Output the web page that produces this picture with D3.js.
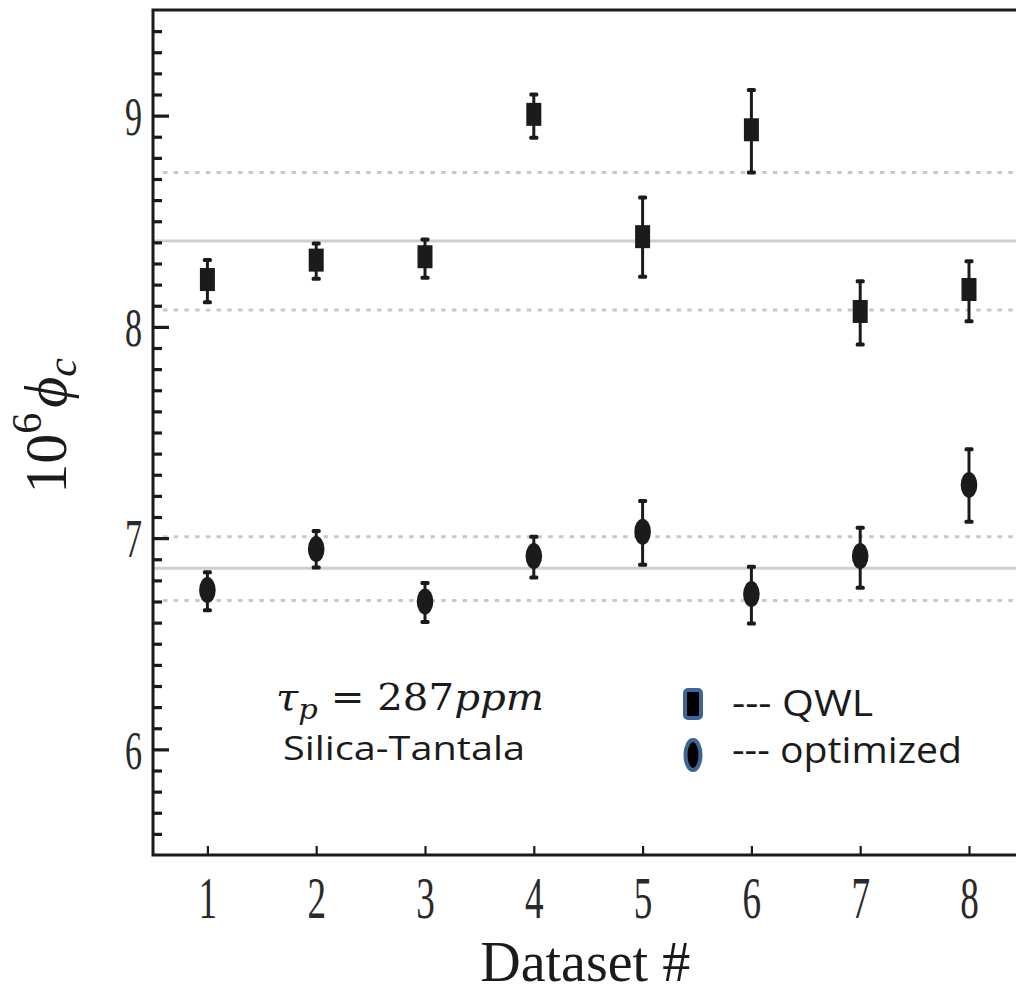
<!DOCTYPE html>
<html>
<head>
<meta charset="utf-8">
<script src="https://cdn.jsdelivr.net/npm/d3@7"></script>
<style>
  html, body { margin: 0; padding: 0; background: #fff; }
  svg { display: block; }
</style>
</head>
<body>
<svg id="chart" width="1016" height="994"></svg>
<script>
// ---- data ----
const datasets = [1, 2, 3, 4, 5, 6, 7, 8];
const qwlValues = [8.224, 8.316, 8.332, 9.006, 8.427, 8.933, 8.073, 8.177];
const qwlLow    = [8.117, 8.228, 8.232, 8.895, 8.237, 8.731, 7.916, 8.027];
const qwlHigh   = [8.316, 8.395, 8.414, 9.100, 8.612, 9.121, 8.216, 8.311];
const optValues = [6.754, 6.948, 6.700, 6.915, 7.030, 6.735, 6.915, 7.252];
const optLow    = [6.659, 6.861, 6.603, 6.814, 6.874, 6.596, 6.765, 7.077];
const optHigh   = [6.839, 7.034, 6.788, 7.007, 7.176, 6.864, 7.049, 7.421];
const qwlMeanLine = [8.406];
const qwlBandLines = [8.080, 8.731];
const optMeanLine = [6.857];
const optBandLines = [6.705, 7.007];
const yMajorTicks = [6, 7, 8, 9];
const xTickLabels = ["1", "2", "3", "4", "5", "6", "7", "8"];

(function () {
// ---- layout ----
const svg = d3.select("#chart");
const mLeft = 153, mTop = 10, mBottom = 855;
const x = d3.scaleLinear().domain([0.5, 8.5]).range([mLeft, 1023.4]);
const y = d3.scaleLinear().domain([5.5, 9.5]).range([mBottom, mTop]);
const plotRight = x(8.5);

const ink = "#1b1b1b";
const serif = "'Liberation Serif', 'Times New Roman', serif";
const sans = "'Open Sans', 'Noto Sans', sans-serif";

// reference lines
const g = svg.append("g");
g.selectAll("line.solid").data(qwlMeanLine.concat(optMeanLine)).join("line")
  .attr("x1", mLeft).attr("x2", plotRight)
  .attr("y1", d => y(d)).attr("y2", d => y(d))
  .attr("stroke", "#cfcfcf").attr("stroke-width", 3);
g.selectAll("line.dash").data(qwlBandLines.concat(optBandLines)).join("line")
  .attr("x1", mLeft + 10).attr("x2", plotRight)
  .attr("y1", d => y(d)).attr("y2", d => y(d))
  .attr("stroke", "#c8c8c8").attr("stroke-width", 3)
  .attr("stroke-dasharray", "4.5 6.2");

// frame
svg.append("rect").attr("x", mLeft).attr("y", mTop)
  .attr("width", plotRight - mLeft).attr("height", mBottom - mTop)
  .attr("fill", "none").attr("stroke", ink).attr("stroke-width", 3);

// y axis minor ticks
const minor = d3.range(56, 95).map(d => d / 10).filter(d => Math.abs(d - Math.round(d)) > 1e-6);
svg.append("g").attr("transform", `translate(${mLeft},0)`)
  .call(d3.axisLeft(y).tickValues(minor).tickSize(-9).tickFormat(""))
  .call(a => a.select(".domain").remove())
  .call(a => a.selectAll(".tick line").attr("stroke", ink).attr("stroke-width", 3.2));

// y axis major ticks + labels
const yAx = svg.append("g").attr("transform", `translate(${mLeft},0)`)
  .call(d3.axisLeft(y).tickValues(yMajorTicks).tickSize(-16).tickFormat(d3.format("d")))
  .call(a => a.select(".domain").remove());
yAx.selectAll(".tick line").attr("stroke", ink).attr("stroke-width", 3.2);
yAx.selectAll(".tick text")
  .attr("font-family", serif).attr("font-size", 55).attr("fill", "#2a2a2a")
  .attr("x", -11 / 0.62).attr("dy", "0.34em")
  .attr("transform", "scale(0.62,1)");

// x axis
const xAx = svg.append("g").attr("transform", `translate(0,${mBottom})`)
  .call(d3.axisBottom(x).tickValues(datasets).tickSize(-9).tickFormat((d, i) => xTickLabels[i]))
  .call(a => a.select(".domain").remove());
xAx.selectAll(".tick line").attr("stroke", ink).attr("stroke-width", 2.2);
xAx.selectAll(".tick text")
  .attr("font-family", serif).attr("font-size", 60).attr("fill", "#2a2a2a")
  .attr("y", 63).attr("dy", 0)
  .attr("transform", "scale(0.62,1)");

// axis titles
svg.append("text").attr("x", (mLeft + plotRight) / 2 - 3).attr("y", 981)
  .attr("text-anchor", "middle").attr("font-family", serif).attr("font-size", 56)
  .attr("fill", ink).text("Dataset #");

const yt = svg.append("text")
  .attr("transform", "translate(66,426) rotate(-90)")
  .attr("text-anchor", "middle").attr("font-family", serif).attr("font-size", 60).attr("fill", ink);
yt.append("tspan").text("10");
yt.append("tspan").attr("font-size", 42).attr("dy", -25).text("6");
yt.append("tspan").attr("dy", 25).attr("font-style", "italic").attr("dx", 5).text("\u03d5");
yt.append("tspan").attr("font-size", 42).attr("font-style", "italic").attr("dy", 10).text("c");

// error bars helper
function errorBars(lo, hi) {
  const eg = svg.append("g");
  eg.selectAll("line").data(datasets).join("line")
    .attr("x1", d => x(d)).attr("x2", d => x(d))
    .attr("y1", (d, i) => y(hi[i])).attr("y2", (d, i) => y(lo[i]))
    .attr("stroke", ink).attr("stroke-width", 3);
  eg.selectAll("rect.hi").data(datasets).join("rect").attr("class", "hi")
    .attr("x", d => x(d) - 4.5).attr("y", (d, i) => y(hi[i]) - 2)
    .attr("width", 9).attr("height", 4).attr("rx", 1.5).attr("fill", ink);
  eg.selectAll("rect.lo").data(datasets).join("rect").attr("class", "lo")
    .attr("x", d => x(d) - 4.5).attr("y", (d, i) => y(lo[i]) - 2)
    .attr("width", 9).attr("height", 4).attr("rx", 1.5).attr("fill", ink);
}
errorBars(qwlLow, qwlHigh);
errorBars(optLow, optHigh);

// QWL squares
svg.append("g").selectAll("rect").data(datasets).join("rect")
  .attr("x", d => x(d) - 7.5).attr("y", (d, i) => y(qwlValues[i]) - 11.5)
  .attr("width", 15).attr("height", 23).attr("fill", ink);

// optimized ellipses
svg.append("g").selectAll("ellipse").data(datasets).join("ellipse")
  .attr("cx", d => x(d)).attr("cy", (d, i) => y(optValues[i]))
  .attr("rx", 8.3).attr("ry", 13).attr("fill", ink);

// annotation
const ann = svg.append("text").attr("x", 276).attr("y", 710)
  .attr("font-family", "'DejaVu Serif', serif").attr("font-size", 37).attr("fill", ink)
  .attr("textLength", 268).attr("lengthAdjust", "spacingAndGlyphs");
ann.append("tspan").attr("font-style", "italic").text("\u03c4");
ann.append("tspan").attr("font-style", "italic").attr("font-size", 28).attr("dy", 9).text("p");
ann.append("tspan").attr("dy", -9).text(" = 287");
ann.append("tspan").attr("font-style", "italic").text("ppm");

svg.append("text").attr("x", 283).attr("y", 760)
  .attr("font-family", sans).attr("font-size", 33).attr("fill", ink)
  .attr("textLength", 242).attr("lengthAdjust", "spacingAndGlyphs")
  .text("Silica-Tantala");

// legend
const legBlue = "#3f6496";
svg.append("rect").attr("x", 685).attr("y", 690).attr("width", 16).attr("height", 28).attr("rx", 3)
  .attr("fill", "#000").attr("stroke", legBlue).attr("stroke-width", 4);
svg.append("ellipse").attr("cx", 693).attr("cy", 755).attr("rx", 7.5).attr("ry", 15)
  .attr("fill", "#000").attr("stroke", legBlue).attr("stroke-width", 4);
svg.append("text").attr("x", 732).attr("y", 716)
  .attr("font-family", sans).attr("font-size", 37).attr("fill", ink)
  .attr("textLength", 141).attr("lengthAdjust", "spacingAndGlyphs")
  .text("--- QWL");
svg.append("text").attr("x", 732).attr("y", 763)
  .attr("font-family", sans).attr("font-size", 37).attr("fill", ink)
  .attr("textLength", 230).attr("lengthAdjust", "spacingAndGlyphs")
  .text("--- optimized");
})();
</script>
</body>
</html>
